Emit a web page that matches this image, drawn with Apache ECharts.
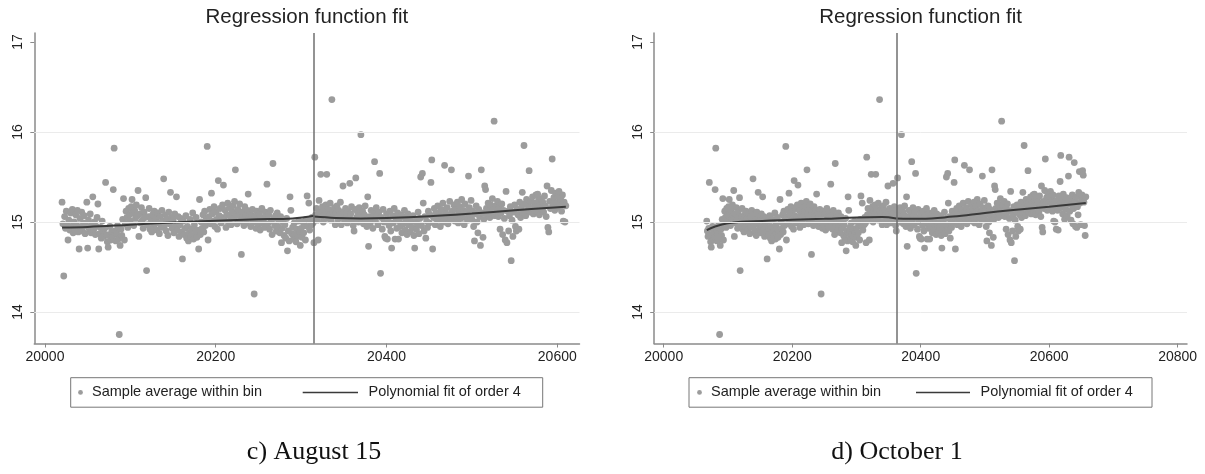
<!DOCTYPE html>
<html>
<head>
<meta charset="utf-8">
<script src="https://cdn.jsdelivr.net/npm/echarts@6/dist/echarts.min.js"></script>
<style>
  html, body { margin: 0; padding: 0; background: #fff; }
  #chart { width: 1205px; height: 474px; }
</style>
</head>
<body>
<div id="chart"></div>
<script>
// Daily bin means (one value per day, starting at firstDay)
const firstDay = 20020;
const binMeans = [
  15.22, 14.98, 14.40, 15.06, 14.93, 15.12, 14.96, 14.80, 15.02, 14.91, // 20020
  15.10, 14.95, 15.14, 14.88, 15.00, 14.92, 15.08, 14.97, 15.13, 14.89, // 20030
  14.70, 15.04, 14.94, 15.11, 14.90, 14.99, 15.07, 14.87, 14.96, 15.22, // 20040
  14.71, 15.02, 14.92, 15.09, 14.88, 14.97, 15.28, 14.91, 15.00, 14.86, // 20050
  14.95, 15.05, 15.20, 14.70, 14.87, 14.94, 14.82, 15.01, 14.90, 14.84, // 20060
  14.93, 15.44, 14.86, 14.78, 14.72, 14.85, 14.95, 14.80, 14.89, 14.83, // 20070
  15.36, 15.82, 14.90, 14.79, 14.87, 14.96, 14.81, 13.75, 14.74, 14.92, // 20080
  14.85, 15.03, 15.26, 14.80, 14.98, 15.12, 15.05, 14.94, 15.15, 15.08, // 20090
  15.01, 15.17, 15.25, 15.10, 14.96, 15.13, 15.04, 15.19, 15.07, 15.35, // 20100
  14.84, 15.09, 14.99, 15.16, 15.02, 14.93, 15.11, 15.05, 15.27, 14.46, // 20110
  14.97, 15.06, 15.15, 14.92, 15.03, 14.89, 15.08, 14.95, 15.12, 14.98, // 20120
  15.04, 14.91, 15.10, 14.99, 14.87, 15.06, 14.94, 15.13, 15.01, 15.48, // 20130
  14.96, 15.08, 14.90, 15.03, 14.85, 15.11, 14.98, 15.33, 15.05, 14.93, // 20140
  15.02, 14.88, 15.09, 14.95, 15.28, 14.91, 15.06, 14.84, 14.97, 15.04, // 20150
  14.89, 14.59, 15.01, 14.86, 14.93, 15.07, 14.82, 14.95, 14.79, 14.88, // 20160
  15.03, 14.84, 14.92, 15.10, 14.81, 14.97, 14.87, 15.05, 14.83, 14.91, // 20170
  14.70, 15.25, 14.86, 15.00, 14.93, 15.08, 14.89, 15.12, 14.96, 15.04, // 20180
  15.84, 14.80, 15.06, 15.14, 14.98, 15.32, 15.09, 15.01, 15.17, 14.95, // 20190
  15.11, 15.03, 14.92, 15.46, 15.07, 15.15, 14.99, 15.05, 15.19, 15.41, // 20200
  15.02, 15.13, 14.94, 15.08, 15.21, 15.00, 15.16, 15.06, 14.97, 15.12, // 20210
  15.18, 15.04, 15.23, 15.58, 15.09, 14.98, 15.14, 15.07, 15.20, 15.01, // 20220
  14.64, 15.11, 15.05, 14.96, 15.17, 15.08, 14.99, 15.13, 15.31, 15.04, // 20230
  15.10, 14.95, 15.07, 15.14, 15.00, 14.20, 15.06, 14.93, 15.12, 15.02, // 20240
  14.97, 15.09, 14.91, 15.05, 15.15, 14.99, 15.03, 14.94, 15.11, 15.06, // 20250
  15.42, 14.98, 15.08, 14.92, 15.13, 15.01, 14.86, 15.65, 15.04, 14.96, // 20260
  15.07, 14.90, 15.10, 14.95, 15.02, 14.88, 15.06, 14.77, 14.93, 15.00, // 20270
  14.85, 14.97, 14.82, 15.04, 14.68, 14.90, 14.79, 15.28, 15.13, 14.87, // 20280
  14.94, 14.81, 14.99, 14.86, 14.78, 14.92, 14.84, 15.01, 14.89, 14.74, // 20290
  14.93, 14.83, 15.00, 14.88, 14.96, 14.80, 15.03, 15.29, 14.95, 15.21, // 20300
  14.91, 15.02, 14.97, 15.05, 14.99, 14.77, 15.72, 15.08, 15.15, 15.02, // 20310
  14.80, 15.24, 15.11, 15.53, 15.06, 15.17, 15.00, 15.13, 15.09, 15.19, // 20320
  15.53, 15.04, 15.14, 15.08, 15.21, 15.02, 16.36, 15.12, 15.07, 15.16, // 20330
  14.97, 15.10, 15.18, 15.03, 15.13, 15.08, 15.22, 14.97, 15.05, 15.40, // 20340
  15.11, 15.01, 15.15, 15.06, 14.99, 15.12, 15.04, 15.43, 15.09, 15.17, // 20350
  15.02, 14.96, 14.90, 15.14, 15.49, 15.05, 15.11, 15.00, 15.16, 15.07, // 20360
  15.97, 15.03, 15.12, 14.98, 15.08, 15.18, 15.01, 14.95, 15.28, 14.73, // 20370
  15.06, 14.99, 15.13, 15.04, 14.93, 15.10, 15.67, 15.02, 15.16, 15.07, // 20380
  14.97, 15.11, 15.54, 14.43, 15.05, 14.92, 15.14, 15.00, 14.84, 14.82, // 20390
  15.09, 14.81, 15.03, 14.96, 15.12, 14.90, 14.71, 15.07, 14.99, 15.15, // 20400
  14.81, 15.04, 14.93, 15.10, 14.81, 15.01, 14.95, 15.08, 14.88, 15.06, // 20410
  14.98, 15.13, 14.91, 15.02, 14.86, 15.09, 14.97, 15.05, 14.89, 15.00, // 20420
  14.94, 15.07, 14.85, 14.71, 15.03, 14.92, 14.98, 15.11, 14.87, 15.04, // 20430
  15.50, 14.96, 15.54, 15.21, 14.90, 15.06, 14.82, 15.01, 14.94, 15.12, // 20440
  14.99, 15.08, 15.44, 15.69, 14.70, 15.05, 15.15, 14.97, 15.10, 15.03, // 20450
  15.18, 15.02, 15.09, 14.95, 15.14, 15.06, 15.21, 15.00, 15.63, 15.11, // 20460
  15.04, 15.16, 14.98, 15.08, 15.23, 15.03, 15.58, 15.12, 15.07, 15.19, // 20470
  15.01, 15.14, 15.06, 15.22, 14.99, 15.10, 15.17, 15.04, 15.25, 15.08, // 20480
  15.13, 14.97, 15.20, 15.05, 15.11, 15.02, 15.51, 15.16, 15.07, 15.24, // 20490
  15.03, 15.12, 14.95, 14.79, 15.09, 15.18, 15.00, 14.88, 15.14, 15.06, // 20500
  14.74, 15.58, 15.10, 14.83, 15.03, 15.40, 15.36, 15.15, 15.08, 15.21, // 20510
  15.12, 15.05, 15.19, 15.09, 15.26, 15.14, 16.12, 15.07, 15.18, 15.11, // 20520
  15.23, 15.06, 15.16, 14.92, 15.10, 15.20, 14.86, 15.13, 15.04, 14.80, // 20530
  15.34, 14.77, 15.12, 14.90, 15.07, 15.17, 14.57, 15.02, 14.84, 15.11, // 20540
  15.19, 14.95, 14.90, 15.14, 15.08, 14.92, 15.22, 15.05, 15.16, 15.33, // 20550
  15.10, 15.85, 15.20, 15.07, 15.25, 15.13, 15.18, 15.57, 15.11, 15.23, // 20560
  15.15, 15.28, 15.09, 15.21, 15.17, 15.30, 15.12, 15.31, 15.24, 15.08, // 20570
  15.19, 15.26, 15.14, 15.22, 15.11, 15.29, 15.18, 15.06, 15.40, 14.94, // 20580
  14.89, 15.23, 15.15, 15.35, 15.70, 15.20, 15.27, 15.13, 15.32, 15.21, // 20590
  15.16, 15.28, 15.34, 15.19, 15.25, 15.12, 15.30, 15.01, 15.22, 15.00, // 20600
  15.18, 14.92, 15.24, 15.13, 14.91, 15.29, 15.20, 15.45, 15.74, 15.16, // 20610
  15.26, 15.09, 15.31, 15.18, 15.03, 15.22, 15.14, 15.27, 15.07, 15.20, // 20620
  15.51, 15.72, 15.12, 15.25, 15.02, 15.19, 15.30, 14.98, 15.15, 15.66, // 20630
  15.23, 14.95, 15.28, 14.94, 15.17, 15.08, 15.33, 15.56, 15.21, 14.97, // 20640
  15.26, 15.30, 15.57, 15.52, 15.22, 14.96, 14.85, 15.28              // 20650
];

// Cutoff dates and the day windows shown around them
const cutoffAug = 20315;
const cutoffOct = 20362;
const windowAug = [20020, 20610];
const windowOct = [20067, 20657];

// Order-4 polynomial fits, each side of the cutoff
const fitAugBeforeX = [20020, 20050, 20100, 20150, 20200, 20250, 20290, 20315];
const fitAugBeforeY = [14.94, 14.945, 14.97, 14.995, 15.015, 15.03, 15.04, 15.07];
const fitAugAfterX  = [20315, 20340, 20370, 20400, 20450, 20500, 20550, 20610];
const fitAugAfterY  = [15.06, 15.045, 15.04, 15.045, 15.065, 15.095, 15.13, 15.17];

const fitOctBeforeX = [20067, 20080, 20100, 20130, 20200, 20250, 20300, 20340, 20362];
const fitOctBeforeY = [14.91, 14.95, 14.985, 15.005, 15.025, 15.035, 15.05, 15.055, 15.04];
const fitOctAfterX  = [20362, 20400, 20450, 20500, 20540, 20600, 20657];
const fitOctAfterY  = [15.04, 15.035, 15.06, 15.10, 15.13, 15.17, 15.21];

// Axis ticks
const xTicksAug = [20000, 20200, 20400, 20600];
const xTicksOct = [20000, 20200, 20400, 20600, 20800];
const yTicks = [14, 15, 16, 17];
const yGridValues = [14, 15, 16];

const titleText = 'Regression function fit';
const legendScatter = 'Sample average within bin';
const legendFit = 'Polynomial fit of order 4';
const captions = ['c) August 15', 'd) October 1'];

const SANS = '"Liberation Sans", Arial, Helvetica, sans-serif';
const SERIF = '"Liberation Serif", "Times New Roman", serif';
const AXIS_COLOR = '#8a8a8a';
const POINT_COLOR = '#9c9c9c';
const FIT_COLOR = '#3a3a3a';

function pairs(xs, ys) { return xs.map((x, i) => [x, ys[i]]); }

function binsInWindow(win) {
  const out = [];
  binMeans.forEach((v, i) => {
    const day = firstDay + i;
    if (day >= win[0] && day <= win[1]) out.push([day, v]);
  });
  return out;
}

const panels = [
  {
    grid: { left: 34.3, top: 33, width: 545.2, height: 310.5 },
    xMin: 19987.5, xMax: 20626, xTicks: xTicksAug,
    cutoff: cutoffAug, win: windowAug,
    fitBefore: pairs(fitAugBeforeX, fitAugBeforeY),
    fitAfter: pairs(fitAugAfterX, fitAugAfterY),
    legend: { x: 70.7, w: 472, marker: 80.5, text1: 92, line: [302.7, 358], text2: 368.5 },
    caption: { text: captions[0], x: 314 }
  },
  {
    grid: { left: 654.2, top: 33, width: 532.8, height: 310.5 },
    xMin: 19985.2, xMax: 20814.5, xTicks: xTicksOct,
    cutoff: cutoffOct, win: windowOct,
    fitBefore: pairs(fitOctBeforeX, fitOctBeforeY),
    fitAfter: pairs(fitOctAfterX, fitOctAfterY),
    legend: { x: 689, w: 463, marker: 699.5, text1: 711, line: [916, 970], text2: 980.5 },
    caption: { text: captions[1], x: 897 }
  }
];

const grids = [], xAxes = [], yAxes = [], series = [], graphics = [];

panels.forEach((p, i) => {
  grids.push(Object.assign({ containLabel: false }, p.grid));

  xAxes.push({
    type: 'value', gridIndex: i, min: p.xMin, max: p.xMax,
    axisLine: { show: true, onZero: false, lineStyle: { color: AXIS_COLOR, width: 1.5 } },
    axisTick: { show: true, length: 4, customValues: p.xTicks, lineStyle: { color: AXIS_COLOR, width: 1 } },
    axisLabel: {
      customValues: p.xTicks, color: '#222', fontSize: 14, fontFamily: SANS, margin: 7,
      formatter: v => String(Math.round(v))
    },
    splitLine: { show: false }
  });

  yAxes.push({
    type: 'value', gridIndex: i, min: 13.65, max: 17.1,
    axisLine: { show: true, onZero: false, lineStyle: { color: AXIS_COLOR, width: 1.5 } },
    axisTick: { show: true, length: 4, customValues: yTicks, lineStyle: { color: AXIS_COLOR, width: 1 } },
    axisLabel: {
      customValues: yTicks, rotate: 90, color: '#222', fontSize: 14, fontFamily: SANS, margin: 9,
      formatter: v => String(Math.round(v))
    },
    splitLine: { show: false }
  });

  // horizontal grid lines
  series.push({
    type: 'line', xAxisIndex: i, yAxisIndex: i, data: [], z: 1, silent: true,
    markLine: {
      silent: true, symbol: 'none', label: { show: false }, animation: false,
      lineStyle: { color: '#ebebeb', width: 1, type: 'solid' },
      data: yGridValues.map(v => ({ yAxis: v }))
    }
  });

  series.push({
    name: legendScatter, type: 'scatter', xAxisIndex: i, yAxisIndex: i,
    data: binsInWindow(p.win), symbol: 'circle', symbolSize: 6.8, z: 2,
    itemStyle: { color: POINT_COLOR, opacity: 1 }
  });

  series.push({
    name: legendFit, type: 'line', xAxisIndex: i, yAxisIndex: i,
    data: p.fitBefore, smooth: 0.4, showSymbol: false, z: 3,
    lineStyle: { color: FIT_COLOR, width: 2 },
    markLine: {
      silent: true, symbol: 'none', label: { show: false }, animation: false,
      lineStyle: { color: '#6f6f6f', width: 1.5, type: 'solid' },
      data: [{ xAxis: p.cutoff }]
    }
  });

  series.push({
    name: legendFit, type: 'line', xAxisIndex: i, yAxisIndex: i,
    data: p.fitAfter, smooth: 0.4, showSymbol: false, z: 3,
    lineStyle: { color: FIT_COLOR, width: 2 }
  });

  const centerX = p.grid.left + p.grid.width / 2;

  // panel title
  graphics.push({
    type: 'text', x: centerX, y: 17, silent: true,
    style: { text: titleText, fill: '#222', font: '20.5px ' + SANS, textAlign: 'center', textVerticalAlign: 'middle' }
  });

  // legend box
  const L = p.legend, ly = 377.7, lh = 29.5, lc = ly + lh / 2;
  graphics.push({
    type: 'rect', silent: true,
    shape: { x: L.x, y: ly, width: L.w, height: lh },
    style: { fill: '#fff', stroke: '#777', lineWidth: 1 }
  });
  graphics.push({
    type: 'circle', silent: true, shape: { cx: L.marker, cy: lc, r: 2.4 },
    style: { fill: POINT_COLOR }
  });
  graphics.push({
    type: 'text', silent: true, x: L.text1, y: lc,
    style: { text: legendScatter, fill: '#222', font: '14.5px ' + SANS, textVerticalAlign: 'middle' }
  });
  graphics.push({
    type: 'line', silent: true, shape: { x1: L.line[0], y1: lc, x2: L.line[1], y2: lc },
    style: { stroke: FIT_COLOR, lineWidth: 1.5 }
  });
  graphics.push({
    type: 'text', silent: true, x: L.text2, y: lc,
    style: { text: legendFit, fill: '#222', font: '14.5px ' + SANS, textVerticalAlign: 'middle' }
  });

  // caption under the panel
  graphics.push({
    type: 'text', silent: true, x: p.caption.x, y: 452,
    style: { text: p.caption.text, fill: '#111', font: '26px ' + SERIF, textAlign: 'center', textVerticalAlign: 'middle' }
  });
});

const chart = echarts.init(document.getElementById('chart'), null, { renderer: 'canvas' });
chart.setOption({
  animation: false,
  backgroundColor: '#fff',
  grid: grids,
  xAxis: xAxes,
  yAxis: yAxes,
  series: series,
  graphic: graphics
});
</script>
</body>
</html>
